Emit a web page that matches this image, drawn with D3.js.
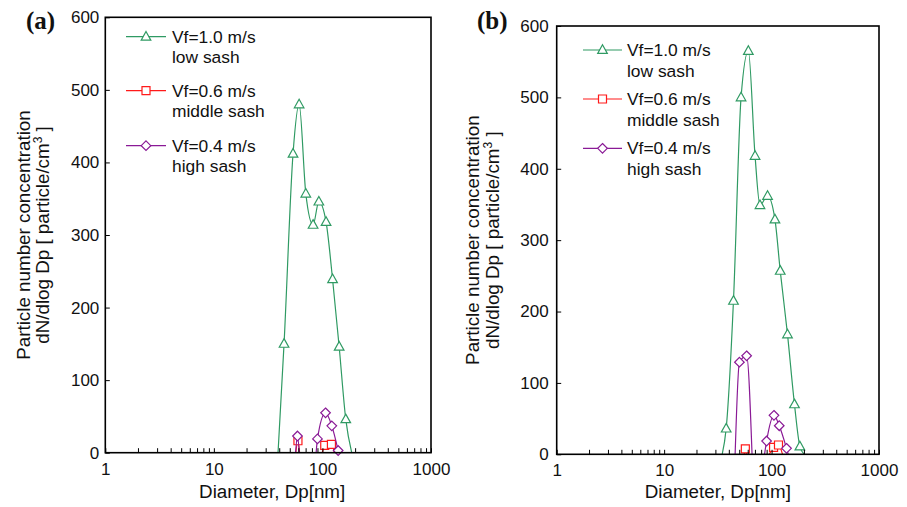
<!DOCTYPE html>
<html>
<head>
<meta charset="utf-8">
<script src="https://cdn.jsdelivr.net/npm/d3@7/dist/d3.min.js"></script>
<style>
  html, body { margin: 0; padding: 0; background: #fff; }
  svg { display: block; }
</style>
</head>
<body>
<svg id="chart" width="907" height="507"></svg>
<script>
// ---------------- DATA ----------------
const xTickLabels = [1, 10, 100, 1000];
const yTickLabels = [0, 100, 200, 300, 400, 500, 600];
const seriesNames = ["Vf=1.0 m/s", "Vf=0.6 m/s", "Vf=0.4 m/s"];
const seriesSubNames = ["low sash", "middle sash", "high sash"];

// Panel (a) — diameters in nm, values in particle/cm3 (null = gap)
const greenA_d  = [39, 44.3, 53.6, 61.0, 70.3, 82, 92.7, 108, 124, 142.6, 164, 186];
const greenA_v  = [0, 150, 412, 480, 357, 314, 346, 318, 239, 146, 46, 0];
const redA_d    = [56.8, 59.5, 61.6, null, 99.6, 105, 121, 129];
const redA_v    = [0, 16.5, 0, null, 0, 10, 11.5, 0];
const purpleA_d = [56.6, 58.9, 61.2, null, 87.5, 90, 106.8, 122, 139.6];
const purpleA_v = [0, 23, 0, null, 0, 19, 55, 37, 3];

// Panel (b)
const greenB_d  = [34.7, 37.8, 44.2, 52, 60.8, 70.2, 78, 91.8, 107.5, 120.4, 140.7, 163.4, 183.4, 201];
const greenB_v  = [0, 36, 215, 500, 565, 418, 349, 362, 329, 257, 168, 70, 11, 0];
const redB_d    = [55.6, 57, 58.4, null, 95.4, 104.4, 116, 126.5];
const redB_v    = [0, 7.5, 0, null, 0, 9.8, 13, 0];
const purpleB_d = [45.8, 50.2, 58.6, 65.8, null, 86, 89.9, 105.3, 117.9, 137.8, 143];
const purpleB_v = [0, 129, 138, 0, null, 0, 18.6, 54.6, 40, 8.4, 0];

// ---------------- STYLE ----------------
const colors = ["#2f9a63", "#ff1a1a", "#8a1a96"];
const markerPaths = [
  "M0,-5.2L4.8,3.4L-4.8,3.4Z",          // triangle
  "M-4,-4H4V4H-4Z",                      // square
  "M0,-4.8L4.8,0L0,4.8L-4.8,0Z"          // diamond
];
const FONT = "'Liberation Sans', Arial, Helvetica, sans-serif";

const panels = [
  { id: "a", label: "(a)", left: 105.3, right: 431, top: 17.3, bottom: 452.7,
    series: [[greenA_d, greenA_v], [redA_d, redA_v], [purpleA_d, purpleA_v]],
    labelX: 26, labelY: 29, yPad: 6, ylab1: 30, ylab2: 49, xTitleDx: 4,
    legend: { x0: 126, x1: 166, tx: 172, y: [36.7, 90.7, 145.7] } },
  { id: "b", label: "(b)", left: 556.7, right: 879, top: 26, bottom: 454.3,
    series: [[greenB_d, greenB_v], [redB_d, redB_v], [purpleB_d, purpleB_v]],
    labelX: 477, labelY: 29, yPad: 8, ylab1: 479, ylab2: 499, xTitleDx: 0,
    legend: { x0: 583, x1: 622, tx: 627, y: [50, 99, 148.3] } }
];

const svg = d3.select("#chart");

const xTickValues = [];
[1, 10, 100].forEach(dec => { for (let k = 1; k <= 9; k++) xTickValues.push(dec * k); });
xTickValues.push(1000);

panels.forEach(p => {
  const x = d3.scaleLog().domain([1, 1000]).range([p.left, p.right]);
  const y = d3.scaleLinear().domain([0, 600]).range([p.bottom, p.top]);
  const g = svg.append("g");

  const clipId = "clip-" + p.id;
  svg.append("clipPath").attr("id", clipId).append("rect")
    .attr("x", p.left).attr("y", p.top)
    .attr("width", p.right - p.left).attr("height", p.bottom - p.top);

  // Series lines + markers
  p.series.forEach(([ds, vs], i) => {
    const pts = ds.map((d, j) => ({ d: d, v: vs[j] }));
    const line = d3.line()
      .defined(o => o.d !== null && o.v !== null)
      .x(o => x(o.d)).y(o => y(o.v))
      .curve(d3.curveMonotoneX);
    g.append("path").attr("d", line(pts))
      .attr("fill", "none").attr("stroke", colors[i]).attr("stroke-width", 1.2)
      .attr("clip-path", `url(#${clipId})`);
    g.selectAll(null).data(pts.filter(o => o.d !== null && o.v > 0)).enter()
      .append("path")
      .attr("d", markerPaths[i])
      .attr("transform", o => `translate(${x(o.d)},${y(o.v)})`)
      .attr("fill", "#fff").attr("stroke", colors[i]).attr("stroke-width", 1.2);
  });

  // X axis
  const xAxis = d3.axisBottom(x)
    .tickValues(xTickValues)
    .tickSizeInner(-4.5).tickSizeOuter(0).tickPadding(10)
    .tickFormat(v => xTickLabels.includes(v) ? String(v) : "");
  const gx = g.append("g").attr("transform", `translate(0,${p.bottom})`).call(xAxis);
  gx.select(".domain").remove();
  gx.selectAll(".tick line").attr("stroke", "#000").attr("stroke-width", 1);
  gx.selectAll(".tick text").attr("font-family", FONT).attr("font-size", 17).attr("fill", "#111");

  // Y axis
  const yAxis = d3.axisLeft(y)
    .tickValues(yTickLabels)
    .tickSizeInner(-4.5).tickSizeOuter(0).tickPadding(p.yPad)
    .tickFormat(d3.format("d"));
  const gy = g.append("g").attr("transform", `translate(${p.left},0)`).call(yAxis);
  gy.select(".domain").remove();
  gy.selectAll(".tick line").attr("stroke", "#000").attr("stroke-width", 1);
  gy.selectAll(".tick text").attr("font-family", FONT).attr("font-size", 17).attr("fill", "#111");

  // Frame
  g.append("rect")
    .attr("x", p.left).attr("y", p.top)
    .attr("width", p.right - p.left).attr("height", p.bottom - p.top)
    .attr("fill", "none").attr("stroke", "#000").attr("stroke-width", 1.6);

  // Axis titles
  g.append("text")
    .attr("x", (p.left + p.right) / 2 + p.xTitleDx).attr("y", 498)
    .attr("text-anchor", "middle")
    .attr("font-family", FONT).attr("font-size", 18.8).attr("fill", "#111")
    .text("Diameter, Dp[nm]");

  const cy = (p.top + p.bottom) / 2;
  g.append("text")
    .attr("transform", `translate(${p.ylab1},${cy}) rotate(-90)`)
    .attr("text-anchor", "middle")
    .attr("font-family", FONT).attr("font-size", 18.8).attr("fill", "#111")
    .text("Particle number concentration");
  const t2 = g.append("text")
    .attr("transform", `translate(${p.ylab2},${cy}) rotate(-90)`)
    .attr("text-anchor", "middle")
    .attr("font-family", FONT).attr("font-size", 18.8).attr("fill", "#111");
  t2.append("tspan").text("dN/dlog Dp [ particle/cm");
  t2.append("tspan").attr("font-size", 12).attr("dy", -7).text("3");
  t2.append("tspan").attr("dy", 7).text(" ]");

  // Panel label
  g.append("text")
    .attr("x", p.labelX).attr("y", p.labelY)
    .attr("font-family", "'Liberation Serif', 'Times New Roman', serif")
    .attr("font-weight", "bold").attr("font-size", 25).attr("fill", "#111")
    .text(p.label);

  // Legend
  const L = p.legend;
  seriesNames.forEach((name, i) => {
    const ly = L.y[i];
    g.append("line").attr("x1", L.x0).attr("x2", L.x1).attr("y1", ly).attr("y2", ly)
      .attr("stroke", colors[i]).attr("stroke-width", 1.2);
    g.append("path").attr("d", markerPaths[i])
      .attr("transform", `translate(${(L.x0 + L.x1) / 2},${ly})`)
      .attr("fill", "#fff").attr("stroke", colors[i]).attr("stroke-width", 1.2);
    g.append("text").attr("x", L.tx).attr("y", ly + 6)
      .attr("font-family", FONT).attr("font-size", 17.4).attr("fill", "#111").text(name);
    g.append("text").attr("x", L.tx).attr("y", ly + 26.5)
      .attr("font-family", FONT).attr("font-size", 17.4).attr("fill", "#111").text(seriesSubNames[i]);
  });
});
</script>
</body>
</html>
